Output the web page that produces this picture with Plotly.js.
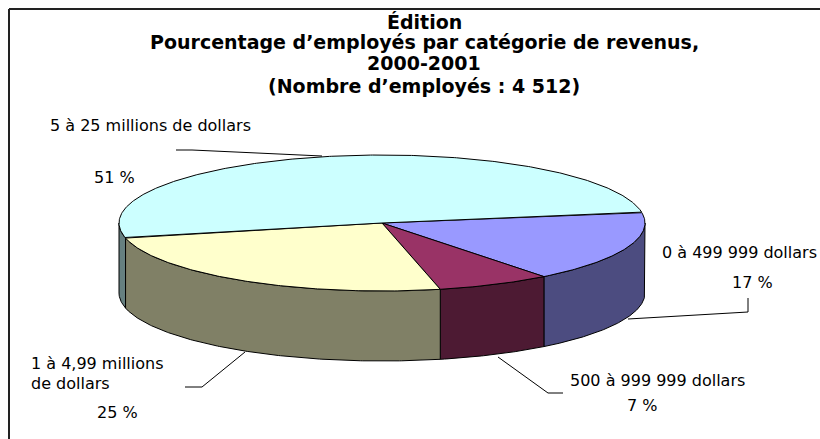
<!DOCTYPE html>
<html>
<head>
<meta charset="utf-8">
<script src="https://cdn.plot.ly/plotly-3.0.1.min.js"></script>
<style>html,body{margin:0;padding:0;background:#fff;}</style>
</head>
<body>
<div id="chart" style="width:820px;height:439px;"></div>
<script>
// ---- data ----
const categories = ["0 à 499 999 dollars", "500 à 999 999 dollars", "1 à 4,99 millions de dollars", "5 à 25 millions de dollars"];
const percents = [17, 7, 25, 51];
const percentLabels = ["17 %", "7 %", "25 %", "51 %"];
const titleLines = ["Édition", "Pourcentage d’employés par catégorie de revenus,", "2000-2001", "(Nombre d’employés : 4 512)"];
const topColors = ["#9999FF", "#993366", "#FFFFCC", "#CCFFFF"];
const sideColors = ["#4C4C80", "#4D1A33", "#808066", "#668080"];

// ---- pseudo-3D pie geometry (pixel space) ----
const cx = 382, cy = 223, a = 263, b = 68, depth = 70, startDeg = 9.2;
const rad = d => d * Math.PI / 180;
const ex = d => cx + a * Math.cos(rad(d));
const ey = d => cy - b * Math.sin(rad(d));

const total = percents.reduce((s, v) => s + v, 0);
const slices = [];
let cur = startDeg;
percents.forEach((v, i) => {
  const span = v / total * 360;
  slices.push({ i, hi: cur, lo: cur - span });
  cur -= span;
});

function arc(from, to, dy) {
  const xs = [], ys = [];
  const n = Math.max(2, Math.ceil(Math.abs(to - from) / 0.5));
  for (let k = 0; k <= n; k++) {
    const d = from + (to - from) * k / n;
    xs.push(ex(d)); ys.push(ey(d) + dy);
  }
  return [xs, ys];
}

const traces = [];
// walls (front half only)
slices.forEach(s => {
  for (let k = -2; k <= 1; k++) {
    const wlo = Math.max(s.lo, k * 360 - 180), whi = Math.min(s.hi, k * 360);
    if (whi - wlo > 0.01) {
      const [tx, ty] = arc(wlo, whi, 0);
      const [bx, by] = arc(whi, wlo, depth);
      traces.push({
        type: "scatter", mode: "lines", fill: "toself",
        x: tx.concat(bx, [tx[0]]), y: ty.concat(by, [ty[0]]),
        fillcolor: sideColors[s.i], line: { color: "#000", width: 1 },
        hoverinfo: "skip", showlegend: false
      });
    }
  }
});
// top faces
slices.forEach(s => {
  const [tx, ty] = arc(s.hi, s.lo, 0);
  traces.push({
    type: "scatter", mode: "lines", fill: "toself",
    x: [cx].concat(tx, [cx]), y: [cy].concat(ty, [cy]),
    fillcolor: topColors[s.i], line: { color: "#000", width: 1 },
    name: categories[s.i], hoverinfo: "skip", showlegend: false
  });
});

const lf = { family: "DejaVu Sans", size: 16, color: "#000" };
const tf = { family: "DejaVu Sans", size: 19, color: "#000" };
const ann = (text, x, y, xanchor, font) => ({ text, x, y, xref: "x", yref: "y", xanchor, yanchor: "middle", showarrow: false, font });

const annotations = [
  ann("<b>" + titleLines[0] + "</b>", 424, 22, "center", tf),
  ann("<b>" + titleLines[1] + "</b>", 424, 42, "center", tf),
  ann("<b>" + titleLines[2] + "</b>", 424, 63, "center", tf),
  ann("<b>" + titleLines[3] + "</b>", 424, 86, "center", tf),
  ann(categories[3], 150, 125, "center", lf),
  ann(percentLabels[3], 114, 177, "center", lf),
  ann(categories[0], 660, 252, "left", lf),
  ann(percentLabels[0], 752, 282, "center", lf),
  ann("1 à 4,99 millions", 29, 363, "left", lf),
  ann("de dollars", 29, 383, "left", lf),
  ann(percentLabels[2], 117, 412, "center", lf),
  ann(categories[1], 568, 380, "left", lf),
  ann(percentLabels[1], 642, 405, "center", lf)
];

const leader = pts => ({ type: "path", xref: "x", yref: "y", path: "M" + pts.map(p => p.join(",")).join(" L"), line: { color: "#000", width: 1 } });
const shapes = [
  leader([[176, 150], [192, 150], [322, 156]]),
  leader([[748, 298], [748, 312], [628, 319]]),
  leader([[185, 387], [202, 387], [245, 352]]),
  leader([[563, 393], [548, 393], [498, 357]]),
  { type: "line", xref: "paper", yref: "paper", x0: 9 / 820, x1: 1.01, y0: 1 - 9 / 439, y1: 1 - 9 / 439, line: { color: "#222", width: 2 } },
  { type: "line", xref: "paper", yref: "paper", x0: 9 / 820, x1: 9 / 820, y0: 1 - 9 / 439, y1: -0.01, line: { color: "#222", width: 2 } }
];

const layout = {
  width: 820, height: 439,
  margin: { l: 0, r: 0, t: 0, b: 0 },
  paper_bgcolor: "#fff", plot_bgcolor: "#fff",
  xaxis: { range: [0, 820], visible: false, fixedrange: true },
  yaxis: { range: [439, 0], visible: false, fixedrange: true },
  showlegend: false, annotations, shapes, hovermode: false
};
Plotly.newPlot("chart", traces, layout, { staticPlot: true, displayModeBar: false });
</script>
</body>
</html>
